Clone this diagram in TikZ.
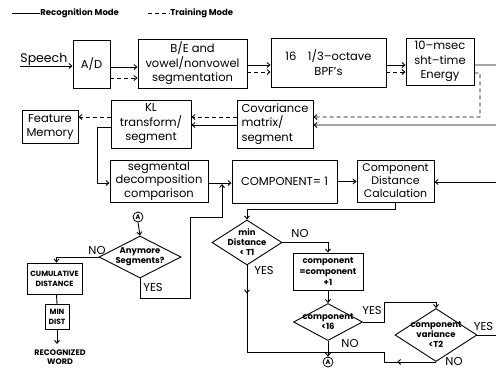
\documentclass[tikz,border=0pt]{standalone}
\usepackage{fontspec}
\setmainfont{Poppins}
\usetikzlibrary{arrows.meta,shapes.geometric}
\begin{document}
\begin{tikzpicture}[x=1bp,y=-1bp,line width=0.9bp,
  arr/.style={-{Straight Barb[length=3bp,width=5bp]}},
  dsh/.style={dash pattern=on 4bp off 3bp},
  box/.style={draw,rectangle,inner sep=0pt,align=center,font=\fontsize{11.5bp}{14.5bp}\selectfont},
  sbox/.style={draw,rectangle,inner sep=0pt,align=center,font=\bfseries\fontsize{7.5bp}{10bp}\selectfont},
  dia/.style={draw,diamond,inner sep=0pt},
  dtext/.style={inner sep=0pt,align=center,font=\bfseries\fontsize{8.5bp}{10bp}\selectfont},
  lbl/.style={inner sep=0pt,font=\fontsize{11.5bp}{13bp}\selectfont},
  leg/.style={inner sep=0pt,anchor=west,font=\bfseries\fontsize{8.5bp}{10bp}\selectfont},
  circ/.style={draw,circle,inner sep=0pt,minimum size=10bp,line width=0.8bp,font=\bfseries\fontsize{6.5bp}{7bp}\selectfont}]
\useasboundingbox (0,0) rectangle (496,369);

% legend
\coordinate (l1a) at (12,13);
\node[leg] (l1) at (40,13) {Recognition Mode};
\draw (l1a) -- (l1.west);
\coordinate (l2a) at (148,13);
\node[leg] (l2) at (170,13) {Training Mode};
\draw[dsh] (l2a) -- (l2.west);

% boxes
\node[box,minimum width=37bp,minimum height=48bp] (ad) at (91.5,64) {A/D};
\node[box,minimum width=109bp,minimum height=49bp] (be) at (192.5,63.5) {B/E and\\vowel/nonvowel\\segmentation};
\node[box,minimum width=115bp,minimum height=49bp] (bpf) at (328.5,62.5) {16\quad 1/3--octave\\BPF's};
\node[box,minimum width=68bp,minimum height=47bp] (en) at (440,61.5) {10--msec\\sht--time\\Energy};
\node[box,minimum width=76bp,minimum height=48bp,align=left] (cov) at (275,124) {Covariance\\matrix/\\segment};
\node[box,minimum width=80bp,minimum height=48bp] (kl) at (151,124) {KL\\transform/\\segment};
\node[box,minimum width=56bp,minimum height=33bp] (fm) at (50,127) {Feature\\Memory};
\node[box,minimum width=98bp,minimum height=42bp,font=\fontsize{11.5bp}{13.5bp}\selectfont] (seg) at (159,181) {segmental\\decomposition\\comparison};
\node[box,minimum width=105bp,minimum height=43bp] (c1) at (284.5,181.5) {COMPONENT= 1};
\node[box,minimum width=77bp,minimum height=42bp,font=\fontsize{11bp}{13bp}\selectfont] (cdc) at (395.5,181) {Component\\Distance\\Calculation};
\node[sbox,minimum width=55bp,minimum height=31bp] (cum) at (54.5,278.5) {CUMULATIVE\\DISTANCE};
\node[sbox,minimum width=24bp,minimum height=25bp] (mind) at (57,317) {MIN\\DIST};
\node[inner sep=0pt,align=center,anchor=north,font=\bfseries\fontsize{8bp}{9.5bp}\selectfont] (rec) at (60,349) {RECOGNIZED\\WORD};
\node[sbox,minimum width=70bp,minimum height=37bp,font=\bfseries\fontsize{8.5bp}{11bp}\selectfont] (inc) at (328,271.5) {component\\=component\\+1};

% diamonds
\node[dia,minimum width=82bp,minimum height=42bp] (any) at (140,257) {};
\node[dtext] (anyt) at (any.center) {Anymore\\Segments?};
\node[dia,minimum width=70bp,minimum height=45bp] (md) at (247,242.5) {};
\node[dtext] (mdt) at (md.center) {min\\Distance\\< T1};
\node[dia,minimum width=69bp,minimum height=37bp] (c16) at (328,322) {};
\node[dtext] (c16t) at (c16.center) {component\\<16};
\node[dia,minimum width=82bp,minimum height=53bp] (var) at (436,335) {};
\node[dtext] (vart) at (var.center) {component\\variance\\<T2};

% circles
\node[circ] (a1) at (138,217) {A};
\node[circ] (a2) at (328,362) {A};

% speech input
\node[box,draw=none,anchor=base west,font=\fontsize{12.5bp}{15bp}\selectfont] (speech) at (20,62) {Speech};
\coordinate (sp0) at (20,66);
\draw[arr] (sp0) -- (sp0 -| ad.west);

% top chain
\draw[arr] ([yshift=-3bp]ad.east) -- ([yshift=-3bp]ad.east -| be.west);
\draw[arr,dsh] ([yshift=-14bp]ad.east) -- ([yshift=-14bp]ad.east -| be.west);
\draw[arr] ([yshift=-1.5bp]be.east) -- ([yshift=-1.5bp]be.east -| bpf.west);
\draw[arr,dsh] ([yshift=-8.5bp]be.east) -- ([yshift=-8.5bp]be.east -| bpf.west);
\draw[arr] ([yshift=-2.5bp]bpf.east) -- ([yshift=-2.5bp]bpf.east -| en.west);
\draw[arr,dsh] ([yshift=-9.5bp]bpf.east) -- ([yshift=-9.5bp]bpf.east -| en.west);

% energy to covariance
\coordinate (er1) at (500,65);
\coordinate (er2) at (500,125);
\draw[arr] ([yshift=-3.5bp]en.east) -- (er1) -- (er2) -- (er2 -| cov.east);
\coordinate (ed1) at (480,73);
\coordinate (ed2) at (480,117);
\draw[arr,dsh] ([yshift=-11.5bp]en.east) -- (ed1) -- (ed2) -- (ed2 -| cov.east);

% covariance to KL
\draw[arr,dsh] ([yshift=7bp]cov.west) -- ([yshift=7bp]cov.west -| kl.east);
\draw[arr] ([yshift=-1bp]cov.west) -- ([yshift=-1bp]cov.west -| kl.east);
% KL to feature memory
\draw[arr,dsh] ([yshift=7bp]kl.west) -- ([yshift=7bp]kl.west -| fm.east);
% KL to segmental
\draw[arr] ([yshift=-3bp]kl.west) -- ++(-13,0) |- ([yshift=-2bp]seg.west);
% segmental to component=1
\draw[arr] ([yshift=-2bp]seg.east) -- ([yshift=-2bp]seg.east -| c1.west);
\draw[arr] (c1.east) -- (c1.east -| cdc.west);
\coordinate (cin) at (500,182);
\draw[arr] (cin) -- (cin -| cdc.east);
% cdc to min distance
\draw[arr] (cdc.south) -- ++(0,7) -| (md.north);
% md NO
\draw[arr] (md.east) -| (inc.north);
\node[lbl] (mdno) at (300,233) {NO};
% md YES
\coordinate (j) at (328,352);
\draw[arr] (md.south) -- ++(0,28);
\draw (md.south) |- (j);
\node[lbl] (mdyes) at (264,270) {YES};
% inc to c16
\draw[arr] (inc.south) -- (c16.north);
% c16 YES
\coordinate (y1) at (384,302);
\draw[arr] (c16.east) -| (y1) -| (var.north);
\node[lbl] (c16yes) at (372,310) {YES};
% c16 NO
\draw (c16.south) -- (j);
\draw[arr] (j) -- (a2.north);
\node[lbl] (c16no) at (350,343) {NO};
% var NO
\coordinate (j2) at (384,352);
\draw (var.south) -| (j2) -- (j);
\draw[arr] (var.south) -- ++(-39,0);
\node[lbl] (varno) at (454,361) {NO};
% var YES
\coordinate (vy) at (500,335);
\draw (var.east) -- (vy);
\node[lbl] (varyes) at (483.5,326) {YES};

% anymore segments
\draw[arr] (a1.south) -- (any.north);
\draw[arr] (any.west) -| ([xshift=2bp]cum.north);
\node[lbl] (anyno) at (97,250) {NO};
\node[lbl] (anyyes) at (153,287) {YES};
\coordinate (lp1) at (190,298);
\coordinate (lp2) at (222,217);
\coordinate (lp3) at (222,184);
\draw[arr] (any.south) |- (lp1) |- (lp2) -- (lp3);
% cumulative to min to recognized
\draw ([xshift=2bp]cum.south) -- (mind.north);
\draw[arr] (mind.south) -- ++(0,14);
\end{tikzpicture}
\end{document}
